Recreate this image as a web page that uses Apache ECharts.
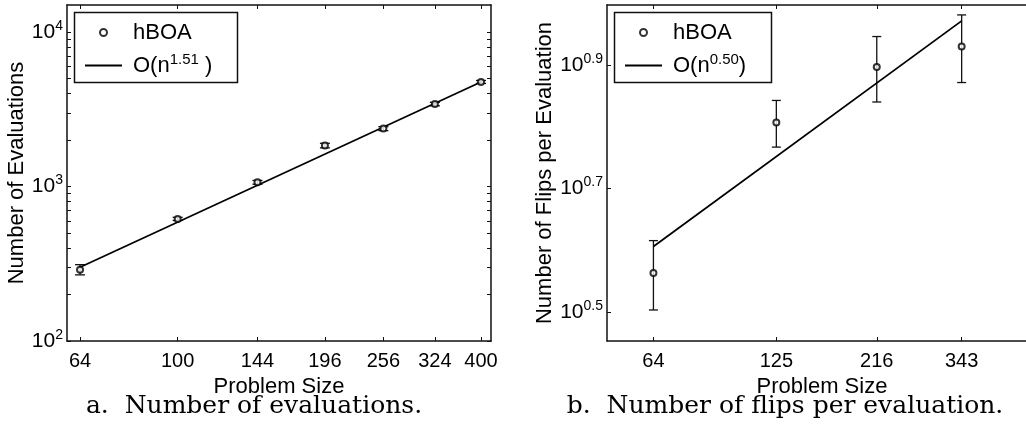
<!DOCTYPE html>
<html>
<head>
<meta charset="utf-8">
<script src="https://cdn.jsdelivr.net/npm/echarts@6/dist/echarts.min.js"></script>
<style>
  html, body { margin: 0; padding: 0; background: #fff; }
  #chart { width: 1026px; height: 427px; }
</style>
</head>
<body>
<div id="chart"></div>
<script>
// ---- data ----
// panel a: number of evaluations
var sizesA = [64, 100, 144, 196, 256, 324, 400];
var evalsA = [289, 617, 1067, 1845, 2371, 3420, 4753];
var evalsLowA = [268, 603, 1035, 1780, 2300, 3330, 4650];
var evalsHighA = [312, 632, 1095, 1905, 2440, 3510, 4860];
var fitA = [[64, 300], [400, 4750]];   // O(n^1.51) line endpoints
var xTicksA = [64, 100, 144, 196, 256, 324, 400];
var yLabelsA = [100, 1000, 10000];
var yTicksA = [100, 200, 300, 400, 500, 600, 700, 800, 900,
  1000, 2000, 3000, 4000, 5000, 6000, 7000, 8000, 9000, 10000];

// panel b: number of flips per evaluation
var sizesB = [64, 125, 216, 343];
var flipsB = [3.66, 6.41, 7.88, 8.51];
var flipsLowB = [3.19, 5.85, 6.92, 7.44];
var flipsHighB = [4.13, 6.96, 8.83, 9.57];
var fitB = [[64, 4.04], [343, 9.36]];  // O(n^0.50) line endpoints
var xTicksB = [64, 125, 216, 343];
var yExpB = [0.5, 0.7, 0.9];           // tick labels 10^0.5 ...

var FONT = 'Liberation Sans';
var chart = echarts.init(document.getElementById('chart'));

function errData(xs, lo, hi) {
  return xs.map(function (x, i) { return [x, lo[i], hi[i]]; });
}

// vertical error bar with caps
function errBar(capW) {
  return function (params, api) {
    var x = api.value(0);
    var lo = api.coord([x, api.value(1)]);
    var hi = api.coord([x, api.value(2)]);
    var st = { stroke: '#111', lineWidth: 1.3 };
    return {
      type: 'group',
      children: [
        { type: 'line', shape: { x1: lo[0], y1: lo[1], x2: hi[0], y2: hi[1] }, style: st },
        { type: 'line', shape: { x1: lo[0] - capW, y1: lo[1], x2: lo[0] + capW, y2: lo[1] }, style: st },
        { type: 'line', shape: { x1: hi[0] - capW, y1: hi[1], x2: hi[0] + capW, y2: hi[1] }, style: st }
      ]
    };
  };
}

var axisLine = { show: true, lineStyle: { color: '#111', width: 1.5 } };

function xAxis(grid, pos, min, max, ticks, labels) {
  return {
    type: 'log', gridIndex: grid, position: pos, min: min, max: max,
    axisLine: axisLine,
    axisTick: { show: true, inside: true, length: 4, customValues: ticks, lineStyle: { color: '#111', width: 1 } },
    axisLabel: labels ? {
      show: true, customValues: ticks, color: '#000', fontFamily: FONT, fontSize: 20, margin: 10,
      formatter: function (v) { return String(Math.round(v)); }
    } : { show: false },
    splitLine: { show: false }, minorTick: { show: false },
    name: labels ? 'Problem Size' : '', nameLocation: 'middle', nameGap: 24,
    nameTextStyle: { color: '#000', fontFamily: FONT, fontSize: 22 }
  };
}

var supRich = {
  b: { fontFamily: FONT, fontSize: 21, color: '#000' },
  s: { fontFamily: FONT, fontSize: 14, color: '#000', padding: [0, 0, 12, 0] }
};

function yAxis(grid, pos, min, max, ticks, labels, fmt, name, gap) {
  return {
    type: 'log', gridIndex: grid, position: pos, min: min, max: max,
    axisLine: axisLine,
    axisTick: { show: true, inside: true, length: 4, customValues: ticks, lineStyle: { color: '#111', width: 1 } },
    axisLabel: labels ? {
      show: true, customValues: labels, margin: 4, formatter: fmt, rich: supRich
    } : { show: false },
    splitLine: { show: false }, minorTick: { show: false },
    name: name || '', nameLocation: 'middle', nameGap: gap || 0,
    nameTextStyle: { color: '#000', fontFamily: FONT, fontSize: 22 }
  };
}

var legendText = {
  fontFamily: FONT, fontSize: 22, color: '#000', lineHeight: 27,
  rich: {
    g: { width: 6 },
    t: { fontFamily: FONT, fontSize: 22, color: '#000', lineHeight: 27 },
    s: { fontFamily: FONT, fontSize: 15, color: '#000', padding: [0, 0, 12, 0] }
  }
};

var lineIcon = 'path://M0,0H37V2H0Z';

function legend(left, fitName, fitRich) {
  return {
    orient: 'vertical', left: left, top: 19, padding: 0, itemGap: 6,
    itemWidth: 37, itemHeight: 7, selectedMode: false,
    data: [{ name: 'hBOA' }, { name: fitName, icon: lineIcon }],
    textStyle: legendText,
    formatter: function (n) { return n === 'hBOA' ? '{g|}{t|hBOA}' : '{g|}' + fitRich; }
  };
}

var option = {
  backgroundColor: '#fff',
  animation: false,
  grid: [
    { left: 67, top: 5, width: 424, height: 336, outerBoundsMode: 'none', containLabel: false },
    { left: 607, top: 5, width: 430, height: 336, outerBoundsMode: 'none', containLabel: false }
  ],
  legend: [
    legend(85, 'fitA', '{t|O(n}{s|1.51}{t| )}'),
    legend(625, 'fitB', '{t|O(n}{s|0.50}{t|)}')
  ],
  xAxis: [
    xAxis(0, 'bottom', 60.3, 418.7, xTicksA, true),
    xAxis(0, 'top', 60.3, 418.7, xTicksA, false),
    xAxis(1, 'bottom', 49.7, 517, xTicksB, true),
    xAxis(1, 'top', 49.7, 517, xTicksB, false)
  ],
  yAxis: [
    yAxis(0, 'left', 100, 14970, yTicksA, yLabelsA, function (v) {
      return '{b|10}{s|' + Math.round(Math.log10(v)) + '}';
    }, 'Number of Evaluations', 38),
    yAxis(0, 'right', 100, 14970, yTicksA, null),
    yAxis(1, 'left', 2.842, 9.93, yExpB.map(function (e) { return Math.pow(10, e); }),
      yExpB.map(function (e) { return Math.pow(10, e); }), function (v) {
        return '{b|10}{s|' + Math.log10(v).toFixed(1) + '}';
      }, 'Number of Flips per Evaluation', 44),
    yAxis(1, 'right', 2.842, 9.93, [], null)
  ],
  graphic: [
    { type: 'rect', left: 72, top: 10, shape: { width: 163, height: 70 },
      style: { fill: 'none', stroke: '#111', lineWidth: 1.5 }, z: 10 },
    { type: 'rect', left: 612, top: 10, shape: { width: 157, height: 70 },
      style: { fill: 'none', stroke: '#111', lineWidth: 1.5 }, z: 10 },
    { type: 'text', x: 254, y: 406, style: { text: 'a.  Number of evaluations.', font: '25px "DejaVu Serif"',
      fill: '#000', textAlign: 'center', textVerticalAlign: 'middle' } },
    { type: 'text', x: 785, y: 406, style: { text: 'b.  Number of flips per evaluation.', font: '25px "DejaVu Serif"',
      fill: '#000', textAlign: 'center', textVerticalAlign: 'middle' } }
  ],
  series: [
    { type: 'custom', xAxisIndex: 0, yAxisIndex: 0, renderItem: errBar(5),
      data: errData(sizesA, evalsLowA, evalsHighA), z: 2 },
    { name: 'fitA', type: 'line', xAxisIndex: 0, yAxisIndex: 0, data: fitA, symbol: 'none',
      lineStyle: { color: '#000', width: 1.8 }, itemStyle: { color: '#000' }, z: 3 },
    { name: 'hBOA', type: 'scatter', xAxisIndex: 0, yAxisIndex: 0,
      data: sizesA.map(function (x, i) { return [x, evalsA[i]]; }),
      symbol: 'emptyCircle', symbolSize: 6,
      itemStyle: { color: '#000', borderColor: '#000', borderWidth: 1.6 }, z: 4 },

    { type: 'custom', xAxisIndex: 2, yAxisIndex: 2, renderItem: errBar(4.5),
      data: errData(sizesB, flipsLowB, flipsHighB), z: 2 },
    { name: 'fitB', type: 'line', xAxisIndex: 2, yAxisIndex: 2, data: fitB, symbol: 'none',
      lineStyle: { color: '#000', width: 1.8 }, itemStyle: { color: '#000' }, z: 3 },
    { name: 'hBOA', type: 'scatter', xAxisIndex: 2, yAxisIndex: 2,
      data: sizesB.map(function (x, i) { return [x, flipsB[i]]; }),
      symbol: 'emptyCircle', symbolSize: 6,
      itemStyle: { color: '#000', borderColor: '#000', borderWidth: 1.6 }, z: 4 }
  ]
};

chart.setOption(option);
</script>
</body>
</html>
